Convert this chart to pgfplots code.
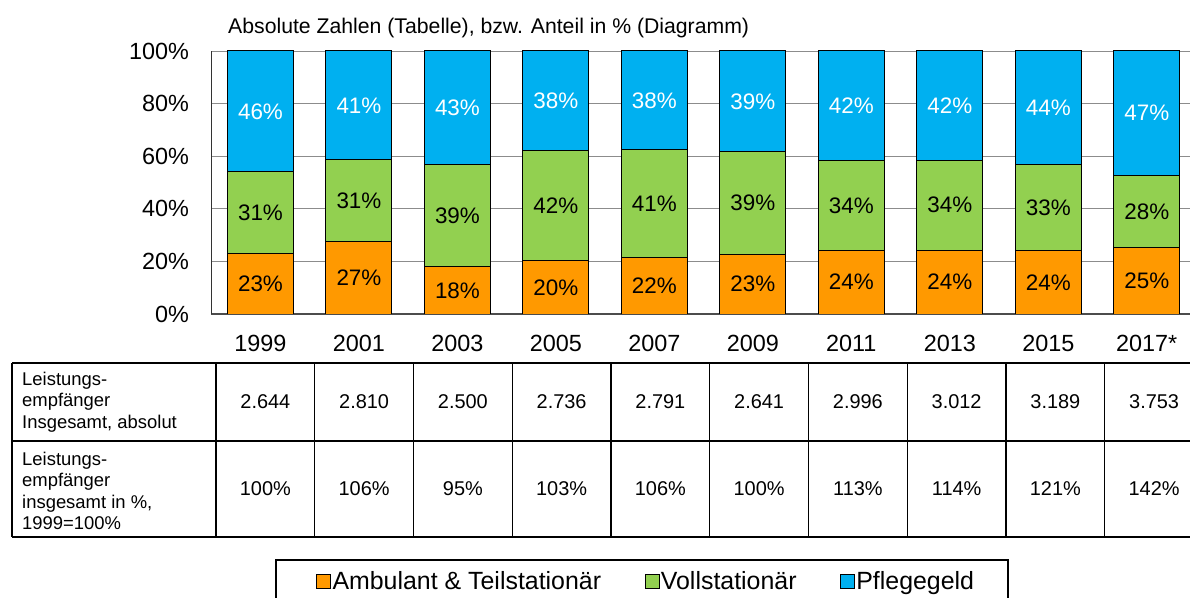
\documentclass[border=0pt]{standalone}
\usepackage{pgfplots}
\pgfplotsset{compat=1.18}
\usepackage{pgfplotstable}
\usepackage{fontspec}
\setmainfont{Liberation Sans}
\definecolor{cOr}{HTML}{FF9900}
\definecolor{cGr}{HTML}{92D050}
\definecolor{cBl}{HTML}{00B0F0}
\pgfplotstableread{
x a v p la lv lp
0 23.0 31.0 46.0 23 31 46
1 27.4 31.2 41.4 27 31 41
2 17.9 39.1 43.0 18 39 43
3 20.2 41.8 38.0 20 42 38
4 21.6 40.9 37.5 22 41 38
5 22.8 38.8 38.4 23 39 39
6 24.2 34.0 41.8 24 34 42
7 24.2 34.3 41.5 24 34 42
8 24.0 32.7 43.3 24 33 44
9 25.2 27.6 47.2 25 28 47
}\data
\newcommand{\tabfont}{\fontsize{18.5}{21.5}\selectfont}
\newcommand{\numfont}{\fontsize{20}{24}\selectfont}
\begin{document}
\begin{tikzpicture}
\useasboundingbox (0,0) rectangle (1190bp,598bp);
\begin{axis}[
  at={(211.25bp,284bp)}, anchor=south west,
  scale only axis, width=984.75bp, height=263bp,
  xmin=-0.5, xmax=9.5, ymin=0, ymax=100,
  ybar stacked, bar width=66bp,
  axis lines=left, axis line style={-},
  x axis line style={draw=black!70, line width=1.6bp},
  y axis line style={draw=black!80, line width=0.8bp},
  ytick={0,20,...,100}, yticklabel={\pgfmathprintnumber{\tick}\%},
  xtick=data, xticklabels={1999,2001,2003,2005,2007,2009,2011,2013,2015,2017*},
  major tick length=0pt,
  ymajorgrids, grid style={draw=black!45, line width=0.9bp},
  /pgf/number format/assume math mode=true,
  tick label style={font=\fontsize{23.5}{28}\selectfont},
  yticklabel style={anchor=east, inner sep=0pt, xshift=-22bp},
  xticklabel style={anchor=center, inner sep=0pt, yshift=-29bp},
  legend columns=3,
  legend style={at={(0.1064,-1.0152)}, anchor=west, draw=none, fill=none,
    inner sep=0pt, font=\fontsize{25}{29}\selectfont,
    nodes={inner sep=1.5bp},
    /tikz/every even column/.append style={column sep=42bp}},
  legend image code/.code={\draw[#1,draw=black,line width=0.8bp] (0bp,-7bp) rectangle (14bp,7bp);},
]
\addplot[fill=cOr, draw=black, line width=1bp] table[x=x,y=a]{\data};
\addplot[fill=cGr, draw=black, line width=1bp] table[x=x,y=v]{\data};
\addplot[fill=cBl, draw=black, line width=1bp] table[x=x,y=p]{\data};
\legend{Ambulant \& Teilstationär\hspace{8bp}, Vollstationär, Pflegegeld}
\end{axis}
\begin{axis}[
  at={(211.25bp,284bp)}, anchor=south west,
  scale only axis, width=984.75bp, height=263bp,
  xmin=-0.5, xmax=9.5, ymin=0, ymax=100,
  hide axis, clip=false,
  nodes near coords, point meta=explicit symbolic,
  every node near coord/.append style={anchor=center, font=\fontsize{22.5}{27}\selectfont},
]
\addplot[only marks, mark=none, nodes near coords={\pgfplotspointmeta\%}] table[x=x, y expr=\thisrow{a}/2, meta=la]{\data};
\addplot[only marks, mark=none, nodes near coords={\pgfplotspointmeta\%}] table[x=x, y expr=\thisrow{a}+\thisrow{v}/2, meta=lv]{\data};
\addplot[only marks, mark=none, nodes near coords={\pgfplotspointmeta\%}, every node near coord/.append style={text=white}] table[x=x, y expr=\thisrow{a}+\thisrow{v}+\thisrow{p}/2, meta=lp]{\data};
\end{axis}
% title
\node[anchor=west, inner sep=0pt, font=\fontsize{21.3}{25}\selectfont] at (228bp,570bp) {Absolute Zahlen (Tabelle), bzw. Anteil in \% (Diagramm)};
% table grid
\begin{scope}[line width=1.3bp]
\draw (12bp,235bp) -- (1210bp,235bp);
\draw (12bp,157bp) -- (1210bp,157bp);
\draw (12bp,61bp) -- (1210bp,61bp);
\draw (12bp,61bp) -- (12bp,235bp);
\foreach \k in {0,...,10} { \draw ({(216+98.75*\k)*1bp},61bp) -- ({(216+98.75*\k)*1bp},235bp); }
\end{scope}
\node[anchor=west, align=left, inner sep=0pt, font=\tabfont] at (22bp,196bp) {Leistungs-\\empfänger\\Insgesamt, absolut};
\node[anchor=west, align=left, inner sep=0pt, font=\tabfont] at (22bp,107bp) {Leistungs-\\empfänger\\insgesamt in \%,\\1999=100\%};
\foreach \v [count=\i from 0] in {2.644,2.810,2.500,2.736,2.791,2.641,2.996,3.012,3.189,3.753} {
  \node[font=\numfont, inner sep=0pt] at ({(265.4+98.75*\i)*1bp},196bp) {\v};
}
\foreach \v [count=\i from 0] in {100,106,95,103,106,100,113,114,121,142} {
  \node[font=\numfont, inner sep=0pt] at ({(265.4+98.75*\i)*1bp},109bp) {\v\%};
}
% legend frame
\draw[line width=1.3bp] (276bp,-5bp) rectangle (1008bp,38bp);
\end{tikzpicture}
\end{document}
